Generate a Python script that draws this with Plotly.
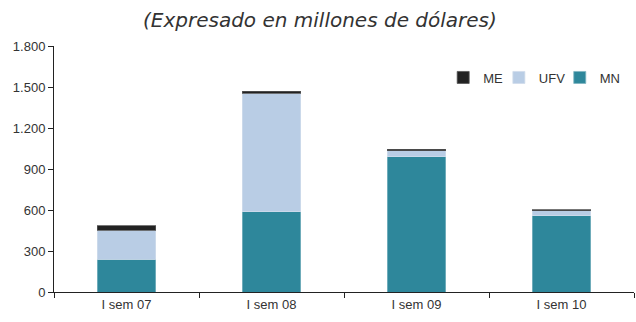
import plotly.graph_objects as go

categories = ["I sem 07", "I sem 08", "I sem 09", "I sem 10"]
mn = [240, 586, 990, 558]
ufv = [212, 869, 42, 35]
me = [33, 13, 14, 8]
y_ticks = [0, 300, 600, 900, 1200, 1500, 1800]
y_tick_labels = ["0", "300", "600", "900", "1.200", "1.500", "1.800"]

font_family = "Liberation Sans, Arial, sans-serif"

fig = go.Figure()
fig.add_trace(go.Bar(name="MN", x=categories, y=mn, legend="legend3",
                     marker=dict(color="#2E879B", line=dict(color="#7FB5C2", width=0.8))))
fig.add_trace(go.Bar(name="UFV", x=categories, y=ufv, legend="legend2",
                     marker=dict(color="#B9CDE5", line=dict(color="#D0DCEB", width=0.8))))
fig.add_trace(go.Bar(name="ME", x=categories, y=me, legend="legend",
                     marker=dict(color="#222222", line=dict(color="#555555", width=0.8))))

def leg(x):
    return dict(
        orientation="h",
        x=x, xanchor="left",
        y=0.872, yanchor="middle",
        font=dict(family=font_family, size=13, color="#333333"),
        bgcolor="rgba(0,0,0,0)",
        itemwidth=30,
    )

fig.update_layout(
    barmode="stack",
    bargap=0.598,
    width=636,
    height=322,
    autosize=False,
    margin=dict(l=54, r=2, t=46, b=30, autoexpand=False),
    paper_bgcolor="white",
    plot_bgcolor="white",
    font=dict(family=font_family, size=13, color="#333333"),
    title=dict(
        text="<i>(Expresado en millones de dólares)</i>",
        x=0.503, xref="container", xanchor="center",
        y=0.939, yref="container", yanchor="middle",
        font=dict(family="DejaVu Sans, sans-serif", size=20, color="#333333"),
    ),
    showlegend=True,
    legend=leg(0.671),
    legend2=leg(0.767),
    legend3=leg(0.872),
)

fig.update_xaxes(
    showline=True, linecolor="#222222", linewidth=1,
    ticks="outside", ticklen=5, tickcolor="#222222",
    tickson="boundaries",
    showgrid=False,
    tickfont=dict(size=13, color="#333333"),
)
fig.update_yaxes(
    range=[0, 1800],
    tickvals=y_ticks, ticktext=y_tick_labels,
    showline=True, linecolor="#222222", linewidth=1,
    ticks="outside", ticklen=5, tickcolor="#222222",
    showgrid=False, zeroline=False,
    tickfont=dict(size=13, color="#333333"),
)

fig.write_html("out.html", config={"displayModeBar": False},
               post_script="document.body.style.margin='0';")
